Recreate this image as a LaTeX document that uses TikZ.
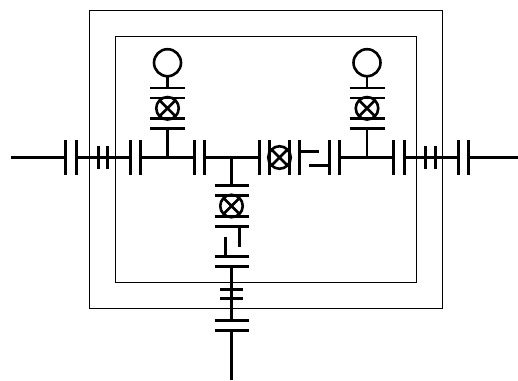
\documentclass[tikz,border=0pt]{standalone}
\tikzset{
  wire/.style={line width=2.6pt,black},
  plate/.style={line width=2.6pt,black},
  frame/.style={line width=1pt,black},
  lampnode/.style={circle,draw=black,line width=2.6pt,inner sep=0pt,minimum size=27pt,outer sep=0pt,fill=white},
  bulbnode/.style={circle,draw=black,line width=2.6pt,inner sep=0pt,minimum size=22.5pt,outer sep=0pt},
}
\newcommand{\crossbulb}[1]{\draw[line width=2.6pt] (#1.45) -- (#1.225) (#1.135) -- (#1.315);}
\begin{document}
\begin{tikzpicture}[x=1pt,y=-1pt]
\useasboundingbox[fill=white] (0,0) rectangle (518,380);
% frames
\draw[frame] (89,10.5) rectangle (442,308.5);
\draw[frame] (115.5,36.5) rectangle (416,282.5);
% main horizontal wires
\coordinate (w0) at (11,157.5);    \coordinate (p1) at (65.5,157.5);
\coordinate (p2) at (76.5,157.5);  \coordinate (p3) at (130.5,157.5);
\coordinate (p4) at (140.5,157.5); \coordinate (p5) at (194.5,157.5);
\coordinate (p6) at (204.5,157.5); \coordinate (p7) at (259.5,157.5);
\coordinate (p8) at (339.5,157.5); \coordinate (p9) at (393.5,157.5);
\coordinate (p10) at (404.5,157.5);\coordinate (p11) at (458.5,157.5);
\coordinate (p12) at (468.5,157.5);\coordinate (w1) at (518,157.5);
\draw[wire] (w0) -- (p1);
\draw[wire] (p2) -- (p3);
\draw[wire] (p4) -- (p5);
\draw[wire] (p6) -- (p7);
\draw[wire] (p8) -- (p9);
\draw[wire] (p10) -- (p11);
\draw[wire] (p12) -- (w1);
% vertical plates on main line
\foreach \x in {65.5,76.5,130.5,140.5,194.5,204.5,259.5,269.5,289.5,299.5,329.5,339.5,393.5,404.5,458.5,468.5}{
  \draw[plate] (\x,140) -- (\x,174.5);
}
\foreach \x in {98.5,107.5,425.5,435.5}{
  \draw[plate] (\x,146) -- (\x,168.5);
}
% centre bulb
\node[bulbnode] (cb) at (279.5,157.5) {};
\crossbulb{cb}
% contact stubs
\draw[wire] (299.5,151.5) -- (319,151.5);
\draw[wire] (309,165.5) -- (329.5,165.5);
% left and right branches
\foreach \x/\n in {167.5/L,367/R}{
  \coordinate (s\n) at (\x,157.5);
  \coordinate (t\n) at (\x,128.5);
  \draw[wire] (s\n) -- (t\n);
  \draw[plate] (\x-17.5,128.5) -- (\x+17.5,128.5);
  \draw[plate] (\x-17.5,118.5) -- (\x+17.5,118.5);
  \draw[plate] (\x-17.5,98) -- (\x+17.5,98);
  \draw[plate] (\x-17.5,88) -- (\x+17.5,88);
  \node[bulbnode] (b\n) at (\x,108.3) {};
  \crossbulb{b\n}
  \node[lampnode] (l\n) at (\x,62.7) {};
  \coordinate (e\n) at (\x,88);
  \draw[wire] (l\n.south) -- (e\n);
}
% lower branch
\coordinate (s0) at (231.5,157.5);
\coordinate (s1) at (231.5,185.5);
\draw[wire] (s0) -- (s1);
\foreach \y in {185.5,195.5,216.5,226.5,256.5,266.5,320.5,330.5}{
  \draw[plate] (214.5,\y) -- (249,\y);
}
\node[bulbnode] (bD) at (231.5,206) {};
\crossbulb{bD}
\draw[wire] (239.5,226.5) -- (239.5,247);
\draw[wire] (225.5,237) -- (225.5,256.5);
\coordinate (s2) at (231.5,266.5);
\coordinate (s3) at (231.5,320.5);
\coordinate (s4) at (231.5,330.5);
\coordinate (s5) at (231.5,380);
\draw[wire] (s2) -- (s3);
\draw[wire] (s4) -- (s5);
\foreach \y in {289.5,298.5}{
  \draw[plate] (220,\y) -- (243,\y);
}
\end{tikzpicture}
\end{document}
